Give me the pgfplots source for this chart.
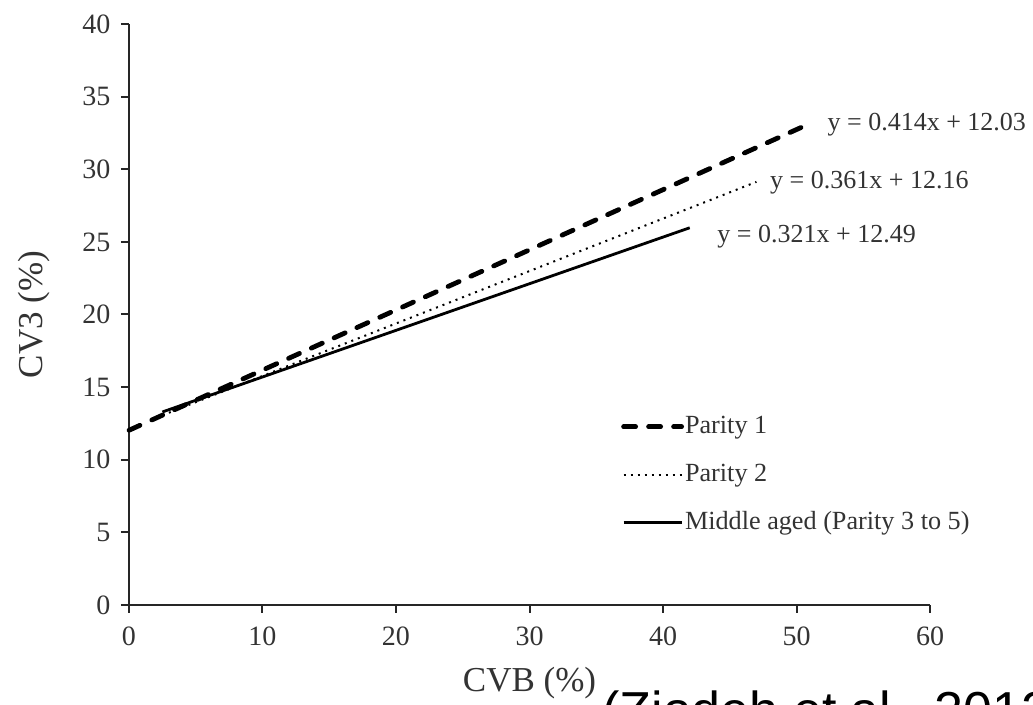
\documentclass[border=0pt]{standalone}
\usepackage{fontspec}
\setmainfont{Liberation Serif}
\newfontfamily\arialfont{Liberation Sans}
\usepackage{pgfplots}
\pgfplotsset{compat=1.18}
\definecolor{txt}{gray}{0.2}
\begin{document}
\begin{tikzpicture}
\begin{axis}[
  at={(0pt,0pt)}, anchor=south west,
  scale only axis, width=400.5pt, height=290.5pt,
  xmin=0, xmax=60, ymin=0, ymax=40,
  clip=false,
  axis x line=bottom, axis y line=left,
  axis line style={-, line width=1pt, black!85},
  xtick={0,10,...,60}, ytick={0,5,...,40},
  tick align=outside, major tick length=4pt,
  tick style={line width=1pt, black!85},
  font=\fontsize{14}{16}\selectfont,
  /pgf/number format/assume math mode=true,
  ticklabel style={text=txt, font=\fontsize{14}{16}\selectfont},
  xticklabel style={yshift=-3.3pt},
  yticklabel style={xshift=-1.8pt},
  xlabel={CVB (\%)}, ylabel={CV3 (\%)},
  label style={text=txt, font=\fontsize{17.5}{19}\selectfont},
  xlabel style={at={(axis description cs:0.5,-0.134)}, anchor=center},
  ylabel style={at={(axis description cs:-0.1186,0.5)}, anchor=center},
  legend style={draw=none, fill=none, at={(axis description cs:0.614,0.3305)}, anchor=north west,
    inner sep=0pt, row sep=10.5pt, font=\fontsize{13.1}{15}\selectfont, text=txt,
    nodes={inner sep=0.5pt, text height=9.5pt, text depth=3pt}},
  legend cell align=left,
  legend image code/.code={\draw[#1] (0pt,0pt) -- (29pt,0pt);},
]
\addplot[black, line width=2.4pt, line cap=round, dash pattern=on 6pt off 6.5pt] coordinates {(0,12.03) (50.5,32.94)};
\addlegendentry{Parity 1}
\addplot[black, line width=1pt, dash pattern=on 1pt off 2.5pt] coordinates {(2.5,13.06) (47.0,29.13)};
\addlegendentry{Parity 2}
\addplot[black, line width=1.4pt] coordinates {(2.5,13.29) (42.0,25.97)};
\addlegendentry{Middle aged (Parity 3 to 5)}
\node[anchor=west, inner sep=0pt, text=txt, font=\fontsize{13}{15}\selectfont] at (axis cs:52.3,33.1) {y = 0.414x + 12.03};
\node[anchor=west, inner sep=0pt, text=txt, font=\fontsize{13}{15}\selectfont] at (axis cs:48.0,29.05) {y = 0.361x + 12.16};
\node[anchor=west, inner sep=0pt, text=txt, font=\fontsize{13}{15}\selectfont] at (axis cs:44.05,25.35) {y = 0.321x + 12.49};
\end{axis}
\node[anchor=base west, inner sep=0pt, font=\arialfont\fontsize{26}{28}\selectfont] at (236.5pt,-62pt) {(Ziadeh et al., 2012)};
\pgfresetboundingbox
\path[use as bounding box] (-64.5pt,-50pt) rectangle (452pt,302.5pt);
\end{tikzpicture}
\end{document}
